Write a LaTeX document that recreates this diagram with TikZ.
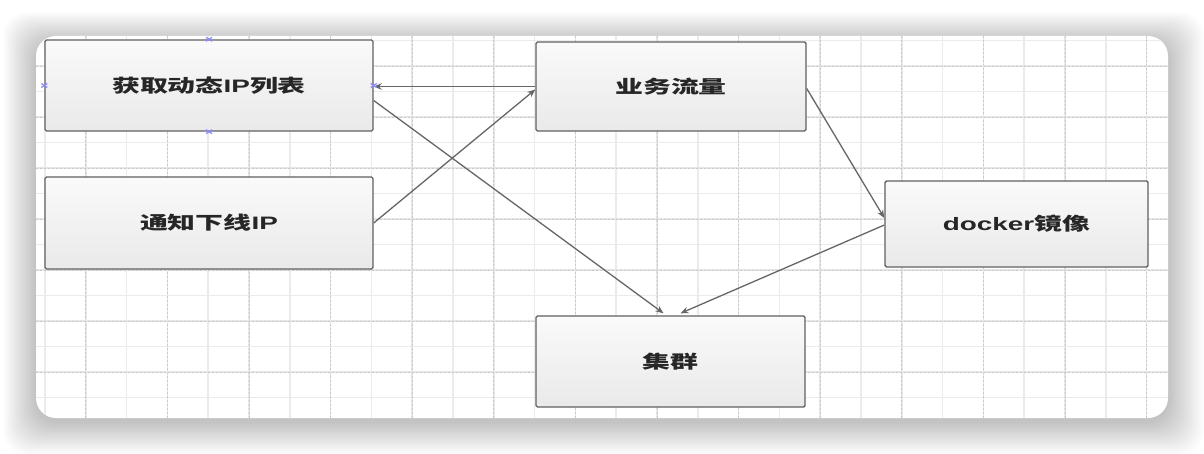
\documentclass[tikz,border=0pt]{standalone}
\usepackage{fontspec}
\usepackage{graphicx}
\setmainfont{Liberation Sans}
\newfontfamily\cjk{Noto Sans CJK SC}
\newfontfamily\lat{Liberation Sans}
\usetikzlibrary{arrows.meta,calc}
\tikzset{
  box/.style={draw=gray!75!black, line width=1.4pt, rounded corners=1.5pt,
    top color=gray!4, bottom color=gray!17, inner sep=0pt,
    font=\cjk\bfseries\fontsize{18}{20}\selectfont, text=black!85},
  conn/.style={draw=black!60, line width=1.3pt, -{Stealth[length=8pt,width=6.5pt]}},
  minorgrid/.style={draw=gray!16, line width=1.6pt},
  majorgrid/.style={draw=gray!20, line width=1.6pt},
  majordash/.style={draw=gray!42, line width=0.9pt, dash pattern=on 2pt off 2pt},
  selmark/.style={draw=blue!45!white, line width=1.3pt}
}
\newcommand{\wide}[1]{\scalebox{1.55}[1]{#1}}
\begin{document}
\begin{tikzpicture}[x=1pt,y=-1pt]
\useasboundingbox (0,0) rectangle (1204,454);
\fill[white] (0,0) rectangle (1204,454);
% card shadow
\foreach \i in {1,...,30}{
  \fill[black, opacity=0.0085, rounded corners=24pt]
    (36-\i*1.1, 42-\i*1.0) rectangle (1168+\i*1.2, 422+\i*1.1);
}
\fill[white, rounded corners=20pt] (36,36) rectangle (1168,418);
% grid
\begin{scope}
  \clip[rounded corners=20pt] (36,36) rectangle (1168,418);
  \foreach \k in {0,2,...,26}{
    \draw[minorgrid] (45+\k*40.8,36) -- (45+\k*40.8,418);
  }
  \foreach \k in {0,2,...,14}{
    \draw[minorgrid] (36,40.5+\k*25.5) -- (1168,40.5+\k*25.5);
  }
  \foreach \k in {1,3,...,27}{
    \draw[majorgrid] (45+\k*40.8,36) -- (45+\k*40.8,418);
    \draw[majordash] (45+\k*40.8,36) -- (45+\k*40.8,418);
  }
  \foreach \k in {1,3,...,13}{
    \draw[majorgrid] (36,40.5+\k*25.5) -- (1168,40.5+\k*25.5);
    \draw[majordash] (36,40.5+\k*25.5) -- (1168,40.5+\k*25.5);
  }
\end{scope}
% boxes
\node[box, minimum width=328pt, minimum height=91pt] (b1) at (209,85.5)
  {\wide{获取动态{\lat\bfseries IP}列表}};
\node[box, minimum width=328pt, minimum height=92pt] (b2) at (209,223)
  {\wide{通知下线{\lat\bfseries IP}}};
\node[box, minimum width=270pt, minimum height=89pt] (b3) at (671,86.5)
  {\wide{业务流量}};
\node[box, minimum width=263pt, minimum height=86pt] (b4) at (1016.5,224)
  {\wide{{\lat\bfseries docker}镜像}};
\node[box, minimum width=269pt, minimum height=91pt] (b5) at (670.5,361.5)
  {\wide{集群}};
% connectors
\draw[conn] (b3.west) -- (b3.west -| b1.east);
\draw[conn] (b2.east) -- ([yshift=-3pt]b3.west);
\draw[conn] ([yshift=-15pt]b1.east) -- ([xshift=-7pt,yshift=2pt]b5.north);
\draw[conn] ([yshift=-2pt]b3.east) -- ([yshift=6pt]b4.west);
\draw[conn] ([yshift=-1pt]b4.west) -- ([xshift=10pt,yshift=2pt]b5.north);
% selection markers on b1
\foreach \a in {north,south,west,east}{
  \draw[selmark] ($(b1.\a)+(-3,-2)$) -- ($(b1.\a)+(3,2)$);
  \draw[selmark] ($(b1.\a)+(-3,2)$) -- ($(b1.\a)+(3,-2)$);
}
\end{tikzpicture}
\end{document}
